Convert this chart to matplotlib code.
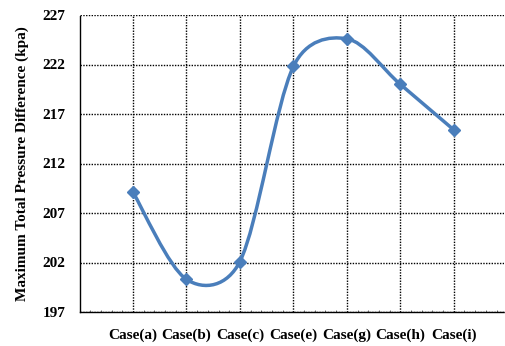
import matplotlib
matplotlib.use("Agg")
import matplotlib.pyplot as plt
import numpy as np
from matplotlib.path import Path
from matplotlib.patches import PathPatch
from matplotlib.ticker import MultipleLocator

plt.rcParams['font.family'] = ['Liberation Serif', 'DejaVu Serif']
plt.rcParams['font.weight'] = 'bold'

# Maximum total pressure difference for each case
cases = ['Case(a)', 'Case(b)', 'Case(c)', 'Case(e)', 'Case(g)', 'Case(h)', 'Case(i)']
pressure_diff = [209.1, 200.3, 202.1, 221.8, 224.6, 220.0, 215.4]
y_ticks = [197, 202, 207, 212, 217, 222, 227]

line_color = '#4A7EBB'

fig = plt.figure(figsize=(5.05, 3.46), dpi=100)
ax = fig.add_axes([79.5 / 505, 34 / 346, 424 / 505, 297 / 346])

x = np.arange(1, len(cases) + 1)
ax.set_xlim(0, 7.93)
ax.set_ylim(197, 227)


def smooth_path(ax, xs, ys):
    # Bezier smoothing done in display space, with control arms
    # limited to half of each segment
    pts = ax.transData.transform(np.column_stack([xs, ys]))
    n = len(pts)
    verts = [pts[0]]
    codes = [Path.MOVETO]
    for i in range(n - 1):
        p0 = pts[i - 1] if i > 0 else pts[i]
        p1 = pts[i]
        p2 = pts[i + 1]
        p3 = pts[i + 2] if i + 2 < n else pts[i + 1]
        d12 = np.hypot(*(p2 - p1))
        d02 = np.hypot(*(p2 - p0))
        d13 = np.hypot(*(p3 - p1))
        f = 1 / 6 if d02 / 6 < d12 / 2 else d12 / (2 * d02)
        g = 1 / 6 if d13 / 6 < d12 / 2 else d12 / (2 * d13)
        c1 = p1 + f * (p2 - p0)
        c2 = p2 - g * (p3 - p1)
        verts += [c1, c2, p2]
        codes += [Path.CURVE4] * 3
    verts = ax.transData.inverted().transform(np.array(verts))
    return Path(verts, codes)


ax.add_patch(PathPatch(smooth_path(ax, x, pressure_diff), facecolor='none',
                       edgecolor=line_color, linewidth=2.5, capstyle='round',
                       zorder=3))
ax.plot(x, pressure_diff, linestyle='none', marker='D', markersize=6.5,
        color=line_color, zorder=4)

ax.set_xticks(x)
ax.set_xticklabels(cases)
ax.set_yticks(y_ticks)
ax.xaxis.set_minor_locator(MultipleLocator(0.2))

ax.grid(True, which='major', color='black', linestyle=(0, (1, 1)), linewidth=1.0)
for side in ['top', 'right']:
    ax.spines[side].set_visible(False)
for side in ['left', 'bottom']:
    ax.spines[side].set_linestyle((0, (1, 1)))
    ax.spines[side].set_linewidth(1.0)

ax.tick_params(axis='x', which='major', length=0, pad=12, labelsize=11)
ax.tick_params(axis='x', which='minor', direction='in', length=1.5, width=0.6,
               color='#555555')
ax.tick_params(axis='y', which='major', length=0, pad=10, labelsize=11)

ax.set_ylabel('Maximum Total Pressure Difference (kpa)', fontsize=11,
              fontweight='bold', labelpad=10)

plt.savefig('out.png', dpi=100)
